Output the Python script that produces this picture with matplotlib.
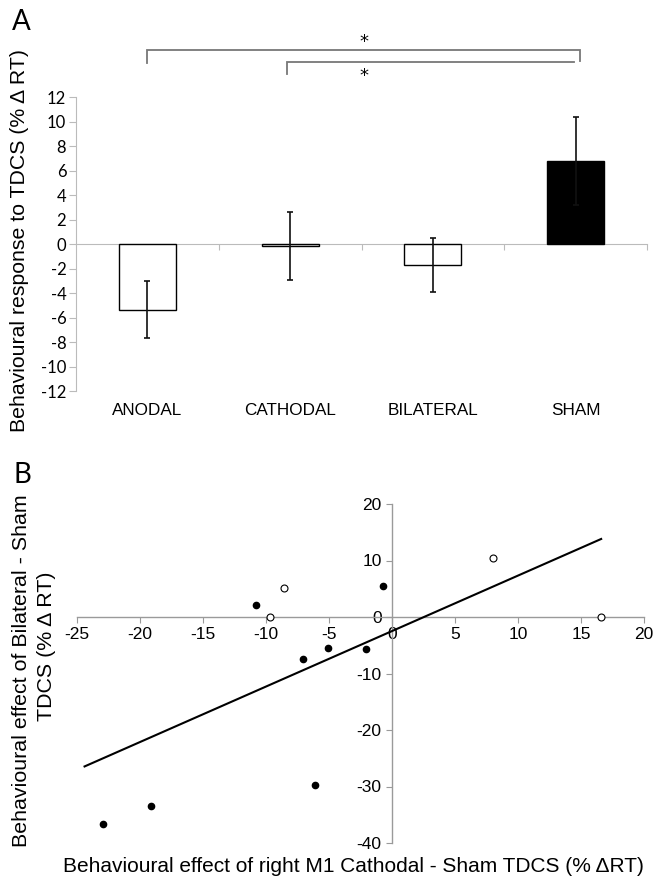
import matplotlib
matplotlib.use("Agg")
import matplotlib.pyplot as plt
import matplotlib.transforms as mtransforms
import numpy as np

plt.rcParams["axes.unicode_minus"] = False

# ---------------- data ----------------
categories = ["ANODAL", "CATHODAL", "BILATERAL", "SHAM"]
means = [-5.35, -0.15, -1.7, 6.8]
errors = [2.35, 2.75, 2.2, 3.6]
bar_colors = ["white", "white", "white", "black"]

filled_x = [-22.9, -19.1, -10.8, -7.1, -6.1, -5.1, -2.1, -0.7]
filled_y = [-36.6, -33.4, 2.1, -7.4, -29.8, -5.5, -5.6, 5.4]
open_x = [-9.7, -8.6, 8.0, 16.6]
open_y = [0.0, 5.2, 10.4, 0.0]
fit_slope = 0.982
fit_intercept = -2.49
fit_x = [-24.4, 16.6]

W, H = 656, 883
fig = plt.figure(figsize=(W / 100, H / 100), dpi=100)

gray = "#9a9a9a"

# ---------------- panel A ----------------
axA = fig.add_axes([76 / W, 1 - 391 / H, (647 - 76) / W, 294 / H])
xpos = np.arange(len(categories))
axA.bar(xpos, means, width=0.4, color=bar_colors, edgecolor="black", linewidth=1.0, zorder=3)
axA.errorbar(xpos, means, yerr=errors, fmt="none", ecolor="#111111", elinewidth=1.2,
             capsize=2.5, capthick=1.2, zorder=4)
axA.set_xlim(-0.5, 3.5)
axA.set_ylim(-12, 12)
axA.set_yticks(np.arange(-12, 13, 2))
axA.set_yticklabels([str(v) for v in range(-12, 13, 2)], family="Lato", fontsize=12)
for s in ["top", "right"]:
    axA.spines[s].set_visible(False)
axA.spines["bottom"].set_position(("data", 0))
axA.spines["bottom"].set_color("#bbbbbb")
axA.spines["left"].set_color("#bbbbbb")
axA.set_xticks([0.5, 1.5, 2.5, 3.5])
axA.set_xticklabels([])
axA.tick_params(axis="x", direction="out", length=4, color="#bbbbbb")
axA.tick_params(axis="y", direction="out", length=5, color="#bbbbbb", pad=2)
trans = mtransforms.blended_transform_factory(axA.transData, axA.transAxes)
for i, c in enumerate(categories):
    axA.text(i, -0.065, c, transform=trans, ha="center", va="center",
             family="Liberation Sans", fontsize=12.3)
fig.text(20 / W, 1 - 241 / H, "Behavioural response to TDCS (% Δ RT)", family="Liberation Sans",
         fontsize=15.3, rotation=90, ha="center", va="center")

# significance brackets
bk = dict(color="#777777", lw=1.3, clip_on=False, solid_joinstyle="miter")
axA.plot([0, 0, 3.03, 3.03], [14.8, 15.85, 15.85, 14.9], **bk)
axA.plot([0.98, 0.98, 2.99], [13.9, 14.85, 14.85], **bk)
axA.text(1.52, 16.45, "*", ha="center", va="center", fontsize=13, clip_on=False)
axA.text(1.52, 13.75, "*", ha="center", va="center", fontsize=13, clip_on=False)

fig.text(12 / W, 1 - 22 / H, "A", family="Lato", fontsize=20, ha="left", va="center")

# ---------------- panel B ----------------
axB = fig.add_axes([77 / W, 1 - 843 / H, (644 - 77) / W, (843 - 504) / H])
axB.set_xlim(-25, 20)
axB.set_ylim(-40, 20)
axB.spines["left"].set_position(("data", 0))
axB.spines["bottom"].set_position(("data", 0))
for s in ["top", "right"]:
    axB.spines[s].set_visible(False)
for s in ["left", "bottom"]:
    axB.spines[s].set_color(gray)
    axB.spines[s].set_linewidth(1.0)
axB.set_xticks(np.arange(-25, 21, 5))
axB.set_yticks(np.arange(-40, 21, 10))
axB.tick_params(axis="both", direction="out", length=4, color=gray, labelsize=12.5)
for lab in axB.get_xticklabels() + axB.get_yticklabels():
    lab.set_family("Liberation Sans")
fx = np.array(fit_x)
axB.plot(fx, fit_slope * fx + fit_intercept, color="black", lw=1.5, zorder=3)
axB.plot(filled_x, filled_y, "o", color="black", markersize=4.5, zorder=4, clip_on=False)
axB.plot(open_x, open_y, "o", markerfacecolor="white", markeredgecolor="black",
         markeredgewidth=0.8, markersize=5, zorder=4, clip_on=False)

fig.text(353 / W, 1 - 867 / H, "Behavioural effect of right M1 Cathodal - Sham TDCS (% ΔRT)",
         family="Liberation Sans", fontsize=15, ha="center", va="center")
fig.text(22 / W, 1 - 671 / H, "Behavioural effect of Bilateral - Sham",
         family="Liberation Sans", fontsize=15.4, ha="center", va="center", rotation=90)
fig.text(47 / W, 1 - 646 / H, "TDCS (% Δ RT)",
         family="Liberation Sans", fontsize=15.4, ha="center", va="center", rotation=90)

fig.text(14 / W, 1 - 475 / H, "B", family="Lato", fontsize=20, ha="left", va="center")

fig.savefig("out.png", dpi=100)
